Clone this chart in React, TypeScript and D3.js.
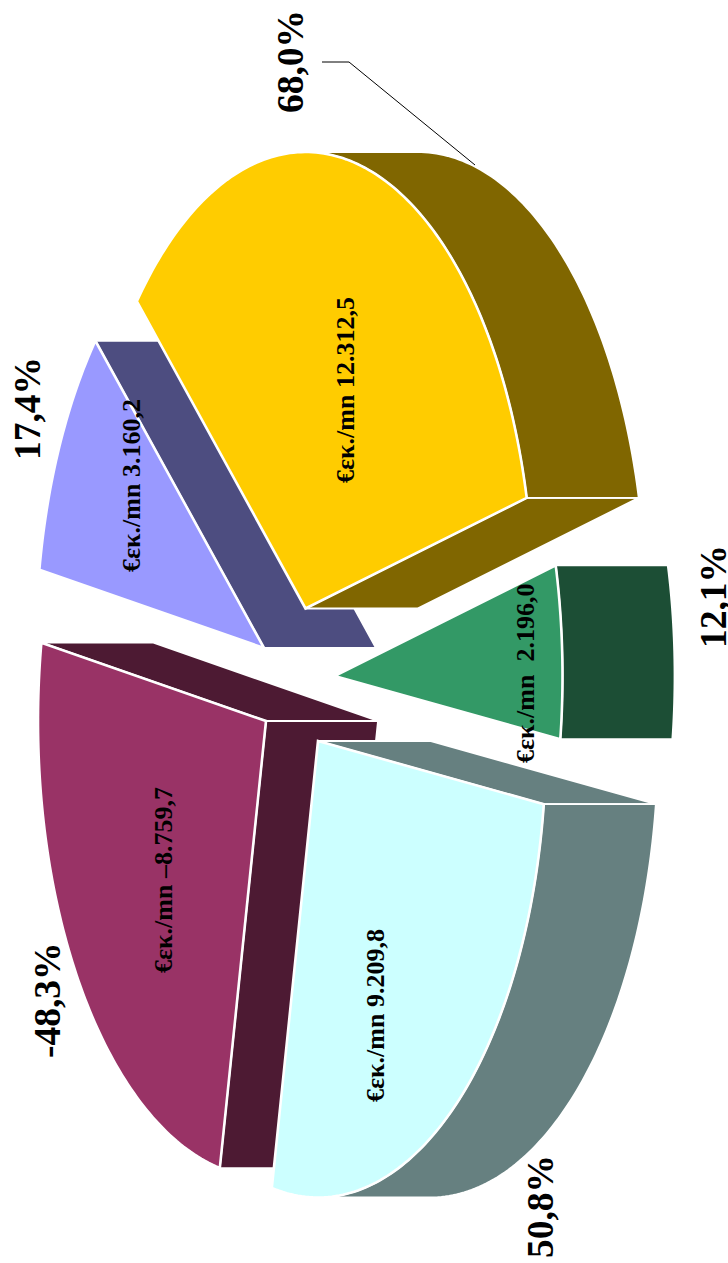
import React from "react";
import * as d3 from "d3";

// ---- data (in pie order, clockwise) ----
const amountLabels = ["€εκ./mn 12.312,5", "€εκ./mn  2.196,0", "€εκ./mn 9.209,8", "€εκ./mn –8.759,7", "€εκ./mn 3.160,2"];
const amounts = [12312.5, 2196.0, 9209.8, -8759.7, 3160.2];
const shareLabels = ["68,0%", "12,1%", "50,8%", "-48,3%", "17,4%"];
const faceColors = ["#FFCC00", "#339966", "#CCFFFF", "#993366", "#9999FF"];
const wallColors = ["#806600", "#1C4E35", "#668080", "#4D1A33", "#4D4D80"];

// ---- layout ----
const W = 728, H = 1263;
const RX = 228, RY = 456.5, DEPTH = 112;
const FIRST_ANGLE = (-137.7 * Math.PI) / 180;
// small per-boundary corrections (degrees) for the perspective of the original 3D pie
const boundaryNudge = [0, -0.7, -0.9, -0.2, -0.5, 0];
const explodedCentres: [number, number][] = [[305.5, 608.5], [334.5, 676], [318, 741], [266, 721], [264, 648]];
const amountAnchors: [number, number][] = [[353.5, 483], [534, 763], [384, 1102], [172, 973], [139.5, 572]];
const shareAnchors: [number, number][] = [[303, 113], [726, 648], [553, 1258], [60, 1058], [40, 460]];
const paintOrder = [4, 3, 1, 0, 2];
const leader: [number, number][] = [[322, 62], [349, 62], [475, 165]];

const FONT = "'Liberation Serif', 'Times New Roman', serif";

const xScale = d3.scaleLinear().domain([-1, 1]).range([-RX, RX]);
const yScale = d3.scaleLinear().domain([-1, 1]).range([-RY, RY]);
const line = d3.line<[number, number]>().x((d) => d[0]).y((d) => d[1]);

const pieGen = d3
  .pie<number>()
  .sort(null)
  .value((v) => Math.abs(v))
  .startAngle(FIRST_ANGLE)
  .endAngle(FIRST_ANGLE + 2 * Math.PI);

const rimPoint = (c: [number, number], t: number, shift = 0): [number, number] => [
  c[0] + xScale(Math.cos(t)) + shift,
  c[1] + yScale(Math.sin(t)),
];

const sampleRim = (c: [number, number], t0: number, t1: number, shift = 0) => {
  const n = Math.max(2, Math.ceil(Math.abs(t1 - t0) * 60));
  return d3.range(n + 1).map((i) => rimPoint(c, t0 + ((t1 - t0) * i) / n, shift));
};

// the part of [t0,t1] where the rim faces the extrusion direction (cos t > 0)
const frontArc = (t0: number, t1: number): [number, number] | null => {
  const hp = Math.PI / 2;
  for (const k of [-1, 0, 1]) {
    const lo = Math.max(t0, -hp + 2 * Math.PI * k);
    const hi = Math.min(t1, hp + 2 * Math.PI * k);
    if (hi > lo) return [lo, hi];
  }
  return null;
};

const rad = (deg: number) => (deg * Math.PI) / 180;

const Slice = ({ index, arc }: { index: number; arc: d3.PieArcDatum<number> }) => {
  const c = explodedCentres[index];
  const t0 = arc.startAngle + rad(boundaryNudge[index]);
  const t1 = arc.endAngle + rad(boundaryNudge[index + 1]);
  const wall = wallColors[index];
  const walls: [number, number][][] = [];
  const edgeWall = (t: number): [number, number][] => [c, rimPoint(c, t), rimPoint(c, t, DEPTH), [c[0] + DEPTH, c[1]]];
  if (Math.sin(t0) > 0) walls.push(edgeWall(t0));
  if (Math.sin(t1) < 0) walls.push(edgeWall(t1));
  const front = frontArc(t0, t1);
  if (front) walls.push([...sampleRim(c, front[0], front[1]), ...sampleRim(c, front[1], front[0], DEPTH)]);
  const face: [number, number][] = [c, ...sampleRim(c, t0, t1)];
  return (
    <g>
      {walls.map((w, i) => (
        <path key={i} d={line(w) + "Z"} fill={wall} stroke="#fff" strokeWidth={1.8} strokeLinejoin="miter" />
      ))}
      <path d={line(face) + "Z"} fill={faceColors[index]} stroke="#fff" strokeWidth={2.6} strokeLinejoin="miter" />
    </g>
  );
};

const Vertical = ({ at, size, children }: { at: [number, number]; size: number; children: string }) => (
  <text
    transform={`translate(${at[0]},${at[1]}) rotate(-90)`}
    fontFamily={FONT}
    fontWeight="bold"
    fontSize={size}
    fill="#000"
    style={{ whiteSpace: "pre" }}
  >
    {children}
  </text>
);

export default function App() {
  const arcs = pieGen(amounts);
  return (
    <svg
      width={W}
      height={H}
      viewBox={`0 0 ${W} ${H}`}
      style={{ position: "absolute", left: 0, top: 0, display: "block", background: "#fff" }}
    >
      {paintOrder.map((i) => (
        <Slice key={i} index={i} arc={arcs[i]} />
      ))}
      <path d={line(leader) ?? ""} fill="none" stroke="#000" strokeWidth={1} />
      {amountLabels.map((s, i) => (
        <Vertical key={s} at={amountAnchors[i]} size={26}>{s}</Vertical>
      ))}
      {shareLabels.map((s, i) => (
        <Vertical key={s} at={shareAnchors[i]} size={37.5}>{s}</Vertical>
      ))}
    </svg>
  );
}
